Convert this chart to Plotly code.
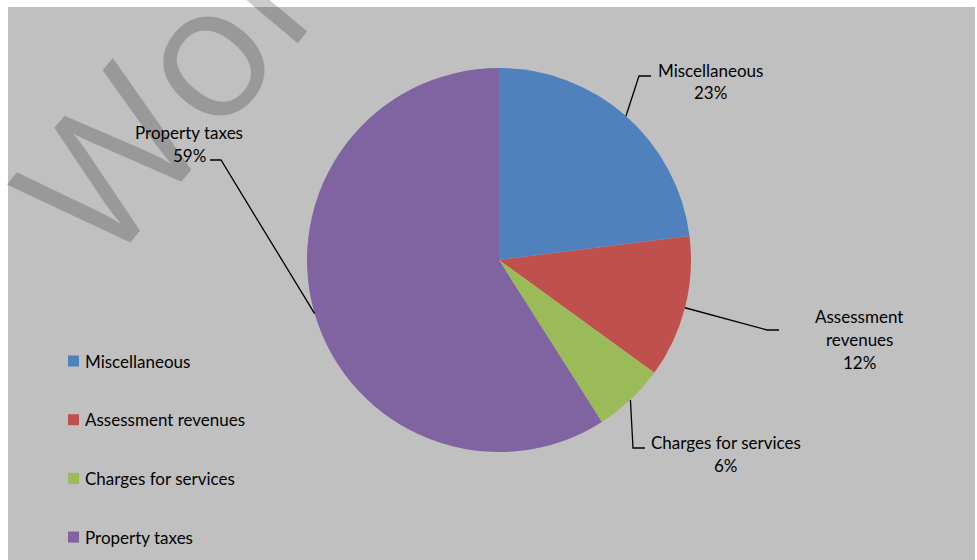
import math
import plotly.graph_objects as go

# ---------------- data ----------------
categories = ["Miscellaneous", "Assessment revenues", "Charges for services", "Property taxes"]
values = [23, 12, 6, 59]
colors = ["#4F81BD", "#C0504D", "#9BBB59", "#8064A2"]

# label line wrapping (display only)
label_lines = {
    "Miscellaneous": ["Miscellaneous"],
    "Assessment revenues": ["Assessment", "revenues"],
    "Charges for services": ["Charges for services"],
    "Property taxes": ["Property taxes"],
}

# ---------------- layout / style ----------------
W, H = 977, 560
cx, cy, R = 499, 260, 192
FONT = "Lato"
FS = 17

# label placement (text centre x, first-line centre y) and leader elbows
label_pos = [(710, 70), (859, 316), (726, 442), (189, 132)]
leader_elbow = [(639, 76), (767, 330), (633, 448), (221, 160)]
leader_end = [(651, 76), (779, 330), (645, 448), (210, 160)]
LINE_H = 23

# legend placement
LEG_X, LEG_Y0, LEG_DY, SQ = 68, 361, 58.7, 11


def px(x):
    return x / W


def py(y):
    return 1 - y / H


fig = go.Figure()

fig.add_trace(go.Pie(
    labels=categories, values=values, sort=False, direction="clockwise",
    rotation=0, marker=dict(colors=colors, line=dict(width=0)),
    textinfo="none", hoverinfo="label+percent", showlegend=False,
    domain=dict(x=[px(cx - R), px(cx + R)], y=[py(cy + R), py(cy - R)]),
))

shapes = [dict(type="rect", xref="paper", yref="paper",
               x0=px(8), x1=px(975), y0=0, y1=py(7),
               fillcolor="#C0C0C0", line=dict(width=0), layer="below")]

annotations = []
total = sum(values)
cum = 0
for i, (c, v) in enumerate(zip(categories, values)):
    mid = (cum + v / 2) / total * 2 * math.pi
    cum += v
    sx, sy = cx + R * math.sin(mid), cy - R * math.cos(mid)
    ex, ey = leader_elbow[i]
    tx, ty = leader_end[i]
    path = f"M {px(sx)} {py(sy)} L {px(ex)} {py(ey)} L {px(tx)} {py(ty)}"
    shapes.append(dict(type="path", xref="paper", yref="paper", path=path,
                       line=dict(color="black", width=1.3)))
    lines = label_lines[c] + [f"{round(v / total * 100)}%"]
    lx, ly = label_pos[i]
    for k, t in enumerate(lines):
        annotations.append(dict(
            x=px(lx), y=py(ly + k * LINE_H), xref="paper", yref="paper",
            text=t, showarrow=False, xanchor="center", yanchor="middle",
            font=dict(family=FONT, size=FS, color="black"),
        ))

# legend (manual, so spacing matches)
for i, (c, col) in enumerate(zip(categories, colors)):
    yc = LEG_Y0 + i * LEG_DY
    shapes.append(dict(type="rect", xref="paper", yref="paper",
                       x0=px(LEG_X), x1=px(LEG_X + SQ),
                       y0=py(yc + SQ / 2), y1=py(yc - SQ / 2),
                       fillcolor=col, line=dict(width=0)))
    annotations.append(dict(
        x=px(LEG_X + SQ + 4), y=py(yc), xref="paper", yref="paper",
        text=c, showarrow=False, xanchor="left", yanchor="middle",
        font=dict(family=FONT, size=FS, color="black"),
    ))

# watermark
annotations.append(dict(
    x=px(166), y=py(88), xref="paper", yref="paper", text="Wor",
    showarrow=False, xanchor="center", yanchor="middle", textangle=-50,
    font=dict(family="Open Sans", size=185, color="rgba(0,0,0,0.2)"),
))

fig.update_layout(
    width=W, height=H, autosize=False,
    margin=dict(l=0, r=0, t=0, b=0),
    paper_bgcolor="white", plot_bgcolor="rgba(0,0,0,0)",
    xaxis=dict(visible=False), yaxis=dict(visible=False),
    shapes=shapes, annotations=annotations,
    showlegend=False,
)

fig.write_html("out.html")
